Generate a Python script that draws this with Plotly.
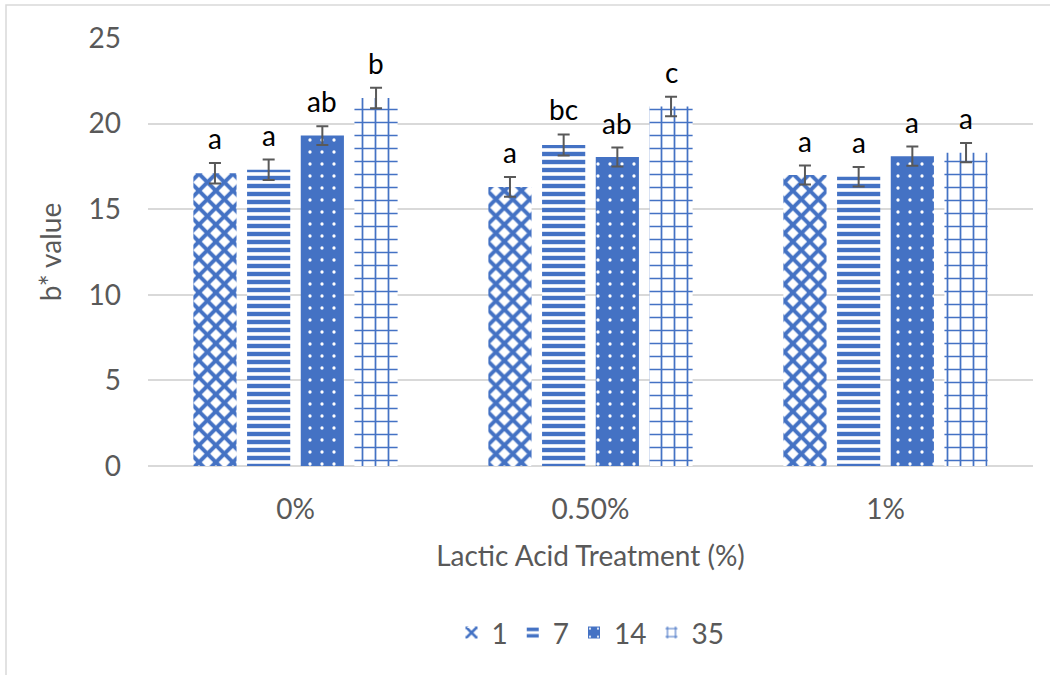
import plotly.graph_objects as go

# Lactic acid treatment levels (x categories)
treatments = ["0%", "0.50%", "1%"]

# Storage days (one series per day) and their b* means / error
days = ["1", "7", "14", "35"]
day1_vals = [17.1, 16.3, 17.0]
day7_vals = [17.3, 18.75, 16.9]
day14_vals = [19.3, 18.05, 18.1]
day35_vals = [21.5, 21.0, 18.3]

day1_err = [0.6, 0.58, 0.55]
day7_err = [0.6, 0.62, 0.57]
day14_err = [0.55, 0.55, 0.56]
day35_err = [0.6, 0.57, 0.56]

# Significance letters for each bar
day1_letters = ["a", "a", "a"]
day7_letters = ["a", "bc", "a"]
day14_letters = ["ab", "ab", "a"]
day35_letters = ["b", "c", "a"]

values = [day1_vals, day7_vals, day14_vals, day35_vals]
errors = [day1_err, day7_err, day14_err, day35_err]
letters = [day1_letters, day7_letters, day14_letters, day35_letters]

BLUE = "#4472C4"
GRAY_TXT = "#595959"
FONT = "Lato, 'Open Sans', sans-serif"
FS = 28

patterns = [
    dict(shape="x", fgcolor=BLUE, bgcolor="white", size=12, solidity=0.55, fillmode="replace"),
    dict(shape="-", fgcolor=BLUE, bgcolor="white", size=8, solidity=0.55, fillmode="replace"),
    dict(shape=".", fgcolor="white", bgcolor=BLUE, size=12, solidity=0.06, fillmode="replace"),
    dict(shape="+", fgcolor=BLUE, bgcolor="white", size=13, solidity=0.25, fillmode="replace"),
]

fig = go.Figure()
for i, name in enumerate(days):
    fig.add_trace(go.Bar(
        name=name,
        x=treatments,
        y=values[i],
        marker=dict(color="white", pattern=patterns[i], line=dict(width=0)),
        error_y=dict(type="data", array=errors[i], visible=True,
                     color=GRAY_TXT, thickness=2, width=6),
    ))

bargap = 0.272
slot = (1 - bargap) / len(days)
annotations = []
for i in range(len(days)):
    for j in range(len(treatments)):
        annotations.append(dict(
            x=j + (i - 1.5) * slot,
            y=values[i][j] + errors[i][j],
            xref="x", yref="y",
            text=letters[i][j],
            showarrow=False,
            yanchor="bottom",
            yshift=6,
            font=dict(size=FS, color="black", family=FONT),
        ))

# light chart frame (top and left edges visible)
L, R, T, B = 148, 1033, 38, 466
pw, ph = R - L, B - T
fig.add_shape(type="rect", xref="paper", yref="paper",
              x0=(6 - L) / pw, x1=(1080 - L) / pw,
              y0=(B - 700) / ph, y1=(B - 5) / ph,
              line=dict(color="#d9d9d9", width=1.5), fillcolor="rgba(0,0,0,0)",
              layer="below")

fig.update_layout(
    width=1050, height=675,
    margin=dict(l=L, r=1050 - R, t=T, b=675 - B),
    paper_bgcolor="white", plot_bgcolor="white",
    barmode="group", bargap=bargap, bargroupgap=0.196,
    font=dict(family=FONT, size=FS, color=GRAY_TXT),
    showlegend=True,
    legend=dict(orientation="h", x=0.5, xanchor="center", y=-0.39, yanchor="middle",
                font=dict(size=FS, color=GRAY_TXT), itemwidth=30,
                traceorder="normal"),
    annotations=annotations,
    xaxis=dict(
        title=dict(text="Lactic Acid Treatment (%)", standoff=22,
                   font=dict(size=FS, color=GRAY_TXT)),
        showgrid=False, showline=False, ticks="", ticklabelstandoff=24,
        tickfont=dict(size=FS, color=GRAY_TXT),
    ),
    yaxis=dict(
        title=dict(text="b* value", standoff=18, font=dict(size=FS, color=GRAY_TXT)),
        range=[0, 25], dtick=5, showgrid=True, gridcolor="#d9d9d9", gridwidth=1.5,
        zeroline=True, zerolinecolor="#d9d9d9", zerolinewidth=1.5,
        ticks="", ticklabelstandoff=26,
        tickfont=dict(size=FS, color=GRAY_TXT),
    ),
)

fig.write_html("out.html")
